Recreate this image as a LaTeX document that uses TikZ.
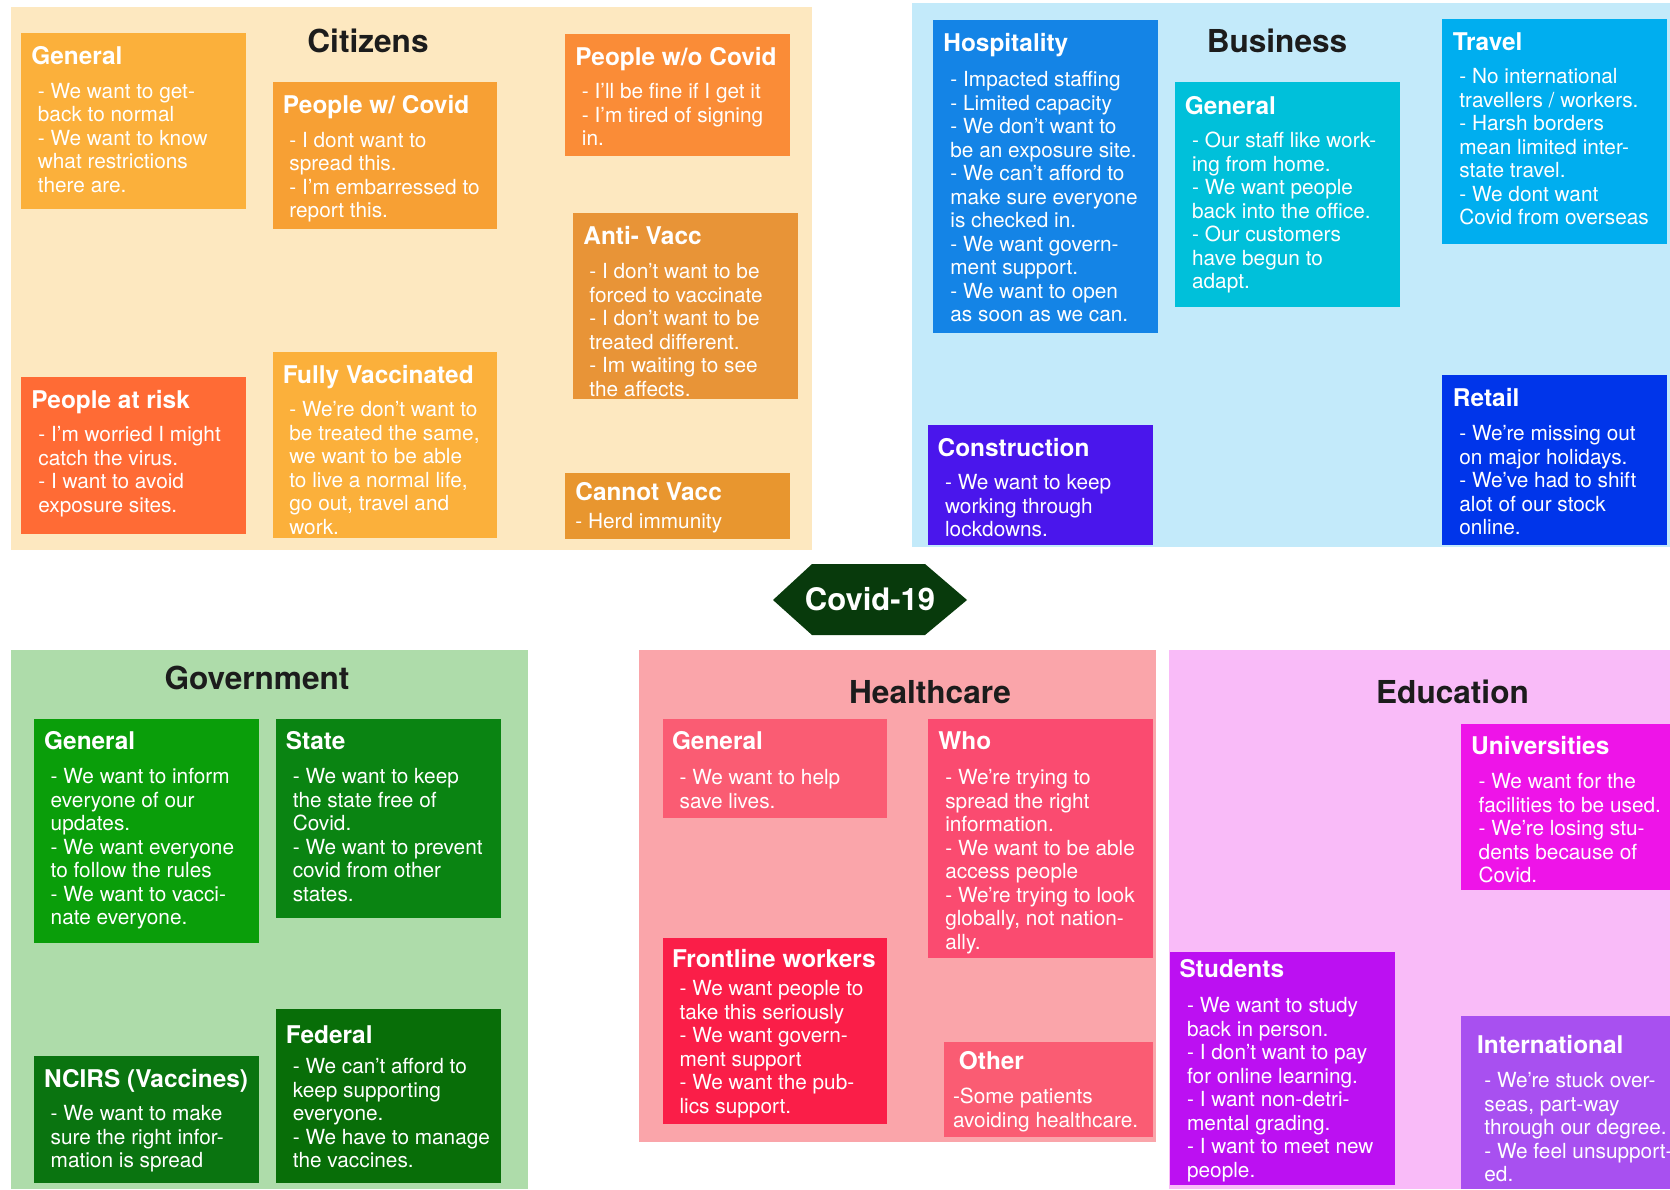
\documentclass[tikz,border=0pt]{standalone}
\usepackage{fontspec}
\setmainfont{TeX Gyre Heros}
\usetikzlibrary{fit}
\definecolor{citbg}{HTML}{FDE8C0}
\definecolor{busbg}{HTML}{C3EAFA}
\definecolor{govbg}{HTML}{AEDCAA}
\definecolor{hlthbg}{HTML}{FAA5AA}
\definecolor{edubg}{HTML}{F9BBF8}
\definecolor{cGen}{HTML}{FBB03B}
\definecolor{cWith}{HTML}{F7A034}
\definecolor{cWo}{HTML}{FA8C37}
\definecolor{cAnti}{HTML}{E89437}
\definecolor{cCannot}{HTML}{E8962F}
\definecolor{cRisk}{HTML}{FF6B35}
\definecolor{bHosp}{HTML}{1484E6}
\definecolor{bGen}{HTML}{00C0DA}
\definecolor{bTravel}{HTML}{00AEEF}
\definecolor{bCons}{HTML}{4A16EC}
\definecolor{bRetail}{HTML}{0035EA}
\definecolor{gGen}{HTML}{0A9E0A}
\definecolor{gState}{HTML}{0A8412}
\definecolor{gNcirs}{HTML}{0A7410}
\definecolor{gFed}{HTML}{086E08}
\definecolor{hGen}{HTML}{FA5C73}
\definecolor{hWho}{HTML}{FA4B70}
\definecolor{hFront}{HTML}{FA1E48}
\definecolor{eUni}{HTML}{EE14E8}
\definecolor{eStud}{HTML}{BC10F2}
\definecolor{eIntl}{HTML}{A850F0}
\definecolor{covidcol}{HTML}{083A0C}
\definecolor{titlecol}{HTML}{1C1C1C}
\begin{document}
\begin{tikzpicture}[x=0.5pt,y=-0.5pt,
  panel/.style={inner sep=0pt,outer sep=0pt,draw=none},
  card/.style={inner sep=0pt,outer sep=0pt,draw=none},
  ttl/.style={text=white,font=\fontsize{12.2}{14}\selectfont\bfseries,inner sep=0pt,anchor=base west},
  bdy/.style={text=white,font=\fontsize{10.4}{11.75}\selectfont,inner sep=0pt,anchor=north west,align=left,yshift=-2pt,execute at begin node={\rule{0pt}{9pt}}},
  sect/.style={text=titlecol,font=\fontsize{15.8}{18}\selectfont\bfseries,inner sep=0pt,anchor=base},
  covidtxt/.style={text=white,font=\fontsize{15.5}{18}\selectfont\bfseries,inner sep=0pt,anchor=base}]
\useasboundingbox (0,0) rectangle (1670,1189);
\fill[white] (0,0) rectangle (1670,1189);
% panels
\node[panel,fill=citbg,fit={(11,7)(812,550)}] (citizens) {};
\node[panel,fill=busbg,fit={(912,3)(1670,547)}] (business) {};
\node[panel,fill=govbg,fit={(11,650)(528,1189)}] (government) {};
\node[panel,fill=hlthbg,fit={(639,650)(1156,1142)}] (healthcare) {};
\node[panel,fill=edubg,fit={(1169,650)(1670,1189)}] (education) {};
\node[sect] (citizens-t) at (368,52.6) {Citizens};
\node[sect] (business-t) at (1277,52.6) {Business};
\node[sect] (government-t) at (257,689) {Government};
\node[sect] (healthcare-t) at (930,703) {Healthcare};
\node[sect] (education-t) at (1452.5,703) {Education};
% covid
\fill[covidcol] (773,600) -- (812,564) -- (925,564) -- (967,600) -- (925,635) -- (812,635) -- cycle;
\node[covidtxt] (covid) at (870,610) {Covid-19};
% Citizens
\node[card,fill=cGen,fit={(21,33)(246,209)}] (cgen) {};
\node[ttl] (cgen-t) at ([shift={(10,31.5)}]cgen.north west) {General};
\node[bdy] (cgen-b) at ([shift={(16.5,45.5)}]cgen.north west) {- We want to get-\\back to normal\\- We want to know\\what restrictions\\there are.};
\node[card,fill=cWith,fit={(273,82)(497,229)}] (cwith) {};
\node[ttl] (cwith-t) at ([shift={(9.5,31)}]cwith.north west) {People w/ Covid};
\node[bdy] (cwith-b) at ([shift={(16,45.5)}]cwith.north west) {- I dont want to\\spread this.\\- I’m embarressed to\\report this.};
\node[card,fill=cWo,fit={(565,34)(790,156)}] (cwo) {};
\node[ttl] (cwo-t) at ([shift={(10,31.5)}]cwo.north west) {People w/o Covid};
\node[bdy] (cwo-b) at ([shift={(16.5,45)}]cwo.north west) {- I’ll be fine if I get it\\- I’m tired of signing\\in.};
\node[card,fill=cAnti,fit={(573,213)(798,399)}] (canti) {};
\node[ttl] (canti-t) at ([shift={(10,31)}]canti.north west) {Anti- Vacc};
\node[bdy] (canti-b) at ([shift={(16,46)}]canti.north west) {- I don’t want to be\\forced to vaccinate\\- I don’t want to be\\treated different.\\- Im waiting to see\\the affects.};
\node[card,fill=cRisk,fit={(21,377)(246,534)}] (crisk) {};
\node[ttl] (crisk-t) at ([shift={(10,31)}]crisk.north west) {People at risk};
\node[bdy] (crisk-b) at ([shift={(17,45)}]crisk.north west) {- I’m worried I might\\catch the virus.\\- I want to avoid\\exposure sites.};
\node[card,fill=cGen,fit={(273,352)(497,538)}] (cfully) {};
\node[ttl] (cfully-t) at ([shift={(9.5,31)}]cfully.north west) {Fully Vaccinated};
\node[bdy] (cfully-b) at ([shift={(16,45)}]cfully.north west) {- We’re don’t want to\\be treated the same,\\we want to be able\\to live a normal life,\\go out, travel and\\work.};
\node[card,fill=cCannot,fit={(565,473)(790,539)}] (ccannot) {};
\node[ttl] (ccannot-t) at ([shift={(10,27)}]ccannot.north west) {Cannot Vacc};
\node[bdy] (ccannot-b) at ([shift={(10,33)}]ccannot.north west) {- Herd immunity};
% Business
\node[card,fill=bHosp,fit={(933,20)(1158,333)}] (bhosp) {};
\node[ttl] (bhosp-t) at ([shift={(10,31)}]bhosp.north west) {Hospitality};
\node[bdy] (bhosp-b) at ([shift={(17,47)}]bhosp.north west) {- Impacted staffing\\- Limited capacity\\- We don’t want to\\be an exposure site.\\- We can’t afford to\\make sure everyone\\is checked in.\\- We want govern-\\ment support.\\- We want to open\\as soon as we can.};
\node[card,fill=bGen,fit={(1175,82)(1400,307)}] (bgen) {};
\node[ttl] (bgen-t) at ([shift={(9.5,32)}]bgen.north west) {General};
\node[bdy] (bgen-b) at ([shift={(16.7,45.6)}]bgen.north west) {- Our staff like work-\\ing from home.\\- We want people\\back into the office.\\- Our customers\\have begun to\\adapt.};
\node[card,fill=bTravel,fit={(1442,19)(1667,244)}] (btravel) {};
\node[ttl] (btravel-t) at ([shift={(10.5,31)}]btravel.north west) {Travel};
\node[bdy] (btravel-b) at ([shift={(17,45)}]btravel.north west) {- No international\\travellers / workers.\\- Harsh borders\\mean limited inter-\\state travel.\\- We dont want\\Covid from overseas};
\node[card,fill=bCons,fit={(928,425)(1153,545)}] (bcons) {};
\node[ttl] (bcons-t) at ([shift={(9.3,31)}]bcons.north west) {Construction};
\node[bdy] (bcons-b) at ([shift={(16.7,45)}]bcons.north west) {- We want to keep\\working through\\lockdowns.};
\node[card,fill=bRetail,fit={(1442,375)(1667,545)}] (bretail) {};
\node[ttl] (bretail-t) at ([shift={(10.5,31)}]bretail.north west) {Retail};
\node[bdy] (bretail-b) at ([shift={(17,46)}]bretail.north west) {- We’re missing out\\on major holidays.\\- We’ve had to shift\\alot of our stock\\online.};
% Government
\node[card,fill=gGen,fit={(34,719)(259,943)}] (ggen) {};
\node[ttl] (ggen-t) at ([shift={(9.8,30.6)}]ggen.north west) {General};
\node[bdy] (ggen-b) at ([shift={(16.3,45)}]ggen.north west) {- We want to inform\\everyone of our\\updates.\\- We want everyone\\to follow the rules\\- We want to vacci-\\nate everyone.};
\node[card,fill=gState,fit={(276,719)(501,918)}] (gstate) {};
\node[ttl] (gstate-t) at ([shift={(9.4,30.6)}]gstate.north west) {State};
\node[bdy] (gstate-b) at ([shift={(16.4,45)}]gstate.north west) {- We want to keep\\the state free of\\Covid.\\- We want to prevent\\covid from other\\states.};
\node[card,fill=gNcirs,fit={(34,1056)(259,1183)}] (gncirs) {};
\node[ttl] (gncirs-t) at ([shift={(9.8,31.5)}]gncirs.north west) {NCIRS (Vaccines)};
\node[bdy] (gncirs-b) at ([shift={(16.3,45)}]gncirs.north west) {- We want to make\\sure the right infor-\\mation is spread};
\node[card,fill=gFed,fit={(276,1009)(501,1183)}] (gfed) {};
\node[ttl] (gfed-t) at ([shift={(9.4,34)}]gfed.north west) {Federal};
\node[bdy] (gfed-b) at ([shift={(16.4,45)}]gfed.north west) {- We can’t afford to\\keep supporting\\everyone.\\- We have to manage\\the vaccines.};
% Healthcare
\node[card,fill=hGen,fit={(663,719)(887,818)}] (hgen) {};
\node[ttl] (hgen-t) at ([shift={(8.6,30.6)}]hgen.north west) {General};
\node[bdy] (hgen-b) at ([shift={(16.2,46)}]hgen.north west) {- We want to help\\save lives.};
\node[card,fill=hWho,fit={(928,719)(1153,958)}] (hwho) {};
\node[ttl] (hwho-t) at ([shift={(10,30.6)}]hwho.north west) {Who};
\node[bdy] (hwho-b) at ([shift={(16.9,46)}]hwho.north west) {- We’re trying to\\spread the right\\information.\\- We want to be able\\access people\\- We’re trying to look\\globally, not nation-\\ally.};
\node[card,fill=hFront,fit={(663,938)(887,1124)}] (hfront) {};
\node[ttl] (hfront-t) at ([shift={(8.6,29.4)}]hfront.north west) {Frontline workers};
\node[bdy] (hfront-b) at ([shift={(16.2,38.3)}]hfront.north west) {- We want people to\\take this seriously\\- We want govern-\\ment support\\- We want the pub-\\lics support.};
\node[card,fill=hGen,fit={(944,1042)(1153,1137)}] (hother) {};
\node[ttl] (hother-t) at ([shift={(14.5,27)}]hother.north west) {Other};
\node[bdy] (hother-b) at ([shift={(8.6,42)}]hother.north west) {-Some patients\\avoiding healthcare.};
% Education
\node[card,fill=eUni,fit={(1461,724)(1670,890)}] (euni) {};
\node[ttl] (euni-t) at ([shift={(9.7,30.5)}]euni.north west) {Universities};
\node[bdy] (euni-b) at ([shift={(17.3,45)}]euni.north west) {- We want for the\\facilities to be used.\\- We’re losing stu-\\dents because of\\Covid.};
\node[card,fill=eStud,fit={(1170,952)(1395,1185)}] (estud) {};
\node[ttl] (estud-t) at ([shift={(9.3,25.7)}]estud.north west) {Students};
\node[bdy] (estud-b) at ([shift={(16.7,41)}]estud.north west) {- We want to study\\back in person.\\- I don’t want to pay\\for online learning.\\- I want non-detri-\\mental grading.\\- I want to meet new\\people.};
\node[card,fill=eIntl,fit={(1461,1016)(1670,1189)}] (eintl) {};
\node[ttl] (eintl-t) at ([shift={(15.7,37.6)}]eintl.north west) {International};
\node[bdy] (eintl-b) at ([shift={(23,52)}]eintl.north west) {- We’re stuck over-\\seas, part-way\\through our degree.\\- We feel unsupport-\\ed.};
\end{tikzpicture}
\end{document}
